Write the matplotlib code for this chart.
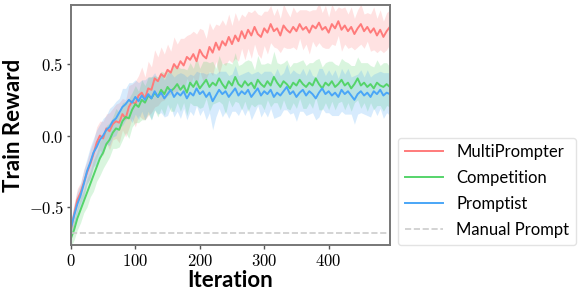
import numpy as np
import matplotlib
matplotlib.use("Agg")
import matplotlib.pyplot as plt
from matplotlib.ticker import FuncFormatter

plt.rcParams['mathtext.fontset'] = 'cm'

step = 5
iters = np.arange(100) * step
manual_prompt = -0.68

multi_mean = [
    -0.66, -0.55, -0.45, -0.40, -0.33, -0.26, -0.20, -0.13, -0.05, 0.00,
    -0.02, 0.05, 0.03, 0.08, 0.10, 0.09, 0.15, 0.12, 0.20, 0.24,
    0.22, 0.28, 0.30, 0.26, 0.33, 0.32, 0.40, 0.38, 0.43, 0.41,
    0.46, 0.44, 0.50, 0.47, 0.52, 0.49, 0.55, 0.53, 0.57, 0.52,
    0.60, 0.56, 0.54, 0.62, 0.58, 0.65, 0.60, 0.66, 0.63, 0.69,
    0.64, 0.70, 0.66, 0.73, 0.68, 0.74, 0.70, 0.76, 0.71, 0.69,
    0.75, 0.72, 0.78, 0.73, 0.75, 0.70, 0.77, 0.74, 0.72, 0.76,
    0.73, 0.78, 0.74, 0.76, 0.72, 0.77, 0.75, 0.79, 0.74, 0.76,
    0.72, 0.78, 0.75, 0.80, 0.74, 0.77, 0.73, 0.76, 0.71, 0.75,
    0.78, 0.73, 0.76, 0.72, 0.75, 0.70, 0.74, 0.69, 0.73, 0.76,
]
multi_std = [
    0.05, 0.07, 0.08, 0.07, 0.09, 0.08, 0.10, 0.09, 0.11, 0.10,
    0.12, 0.10, 0.13, 0.11, 0.12, 0.14, 0.11, 0.13, 0.15, 0.12,
    0.16, 0.14, 0.18, 0.15, 0.19, 0.16, 0.20, 0.17, 0.19, 0.16,
    0.18, 0.15, 0.19, 0.17, 0.16, 0.19, 0.15, 0.18, 0.16, 0.19,
    0.15, 0.18, 0.14, 0.17, 0.16, 0.13, 0.17, 0.15, 0.14, 0.16,
    0.13, 0.16, 0.14, 0.12, 0.15, 0.13, 0.16, 0.12, 0.14, 0.15,
    0.12, 0.15, 0.13, 0.11, 0.14, 0.12, 0.15, 0.13, 0.11, 0.14,
    0.13, 0.10, 0.14, 0.12, 0.15, 0.11, 0.13, 0.14, 0.12, 0.15,
    0.11, 0.14, 0.12, 0.10, 0.15, 0.13, 0.12, 0.14, 0.11, 0.13,
    0.14, 0.12, 0.10, 0.13, 0.15, 0.12, 0.14, 0.11, 0.13, 0.12,
]

comp_mean = [
    -0.72, -0.66, -0.58, -0.52, -0.46, -0.40, -0.34, -0.28, -0.22, -0.16,
    -0.12, -0.06, -0.03, 0.02, 0.05, 0.04, 0.10, 0.13, 0.12, 0.18,
    0.22, 0.20, 0.25, 0.23, 0.28, 0.26, 0.30, 0.27, 0.32, 0.29,
    0.34, 0.31, 0.33, 0.36, 0.32, 0.35, 0.30, 0.37, 0.34, 0.38,
    0.33, 0.36, 0.39, 0.34, 0.37, 0.35, 0.40, 0.36, 0.33, 0.38,
    0.35, 0.41, 0.36, 0.34, 0.38, 0.35, 0.37, 0.33, 0.39, 0.36,
    0.34, 0.38, 0.35, 0.41, 0.37, 0.34, 0.38, 0.36, 0.33, 0.37,
    0.35, 0.39, 0.36, 0.34, 0.37, 0.35, 0.40, 0.36, 0.33, 0.37,
    0.35, 0.38, 0.34, 0.36, 0.39, 0.35, 0.37, 0.33, 0.36, 0.40,
    0.35, 0.37, 0.34, 0.36, 0.33, 0.37, 0.35, 0.34, 0.36, 0.34,
]
comp_std = [
    0.06, 0.07, 0.08, 0.09, 0.08, 0.10, 0.09, 0.11, 0.10, 0.12,
    0.11, 0.13, 0.12, 0.11, 0.14, 0.12, 0.13, 0.11, 0.14, 0.12,
    0.13, 0.11, 0.14, 0.12, 0.13, 0.15, 0.12, 0.14, 0.13, 0.15,
    0.12, 0.14, 0.16, 0.13, 0.15, 0.12, 0.16, 0.14, 0.13, 0.17,
    0.14, 0.16, 0.13, 0.17, 0.15, 0.12, 0.16, 0.14, 0.18, 0.13,
    0.15, 0.17, 0.13, 0.16, 0.14, 0.18, 0.15, 0.13, 0.17, 0.14,
    0.16, 0.13, 0.15, 0.18, 0.14, 0.16, 0.13, 0.17, 0.15, 0.14,
    0.16, 0.13, 0.17, 0.15, 0.14, 0.16, 0.13, 0.18, 0.15, 0.14,
    0.17, 0.14, 0.16, 0.13, 0.15, 0.17, 0.14, 0.16, 0.13, 0.15,
    0.16, 0.14, 0.17, 0.13, 0.15, 0.16, 0.14, 0.17, 0.15, 0.14,
]

promptist_mean = [
    -0.65, -0.56, -0.48, -0.42, -0.34, -0.25, -0.19, -0.12, -0.08, -0.03,
    0.00, 0.04, 0.06, 0.10, 0.12, 0.16, 0.20, 0.22, 0.25, 0.23,
    0.27, 0.24, 0.28, 0.25, 0.29, 0.26, 0.31, 0.27, 0.30, 0.26,
    0.29, 0.32, 0.27, 0.30, 0.28, 0.31, 0.26, 0.30, 0.28, 0.33,
    0.29, 0.31, 0.27, 0.30, 0.24, 0.28, 0.32, 0.29, 0.31, 0.27,
    0.30, 0.33, 0.28, 0.31, 0.29, 0.32, 0.27, 0.30, 0.33, 0.28,
    0.31, 0.29, 0.32, 0.27, 0.30, 0.28, 0.31, 0.34, 0.29, 0.31,
    0.27, 0.30, 0.32, 0.28, 0.31, 0.29, 0.26, 0.30, 0.33, 0.29,
    0.31, 0.28, 0.30, 0.27, 0.32, 0.29, 0.31, 0.28, 0.25, 0.29,
    0.31, 0.28, 0.30, 0.27, 0.31, 0.29, 0.32, 0.28, 0.30, 0.29,
]
promptist_std = [
    0.06, 0.08, 0.09, 0.08, 0.10, 0.09, 0.11, 0.10, 0.12, 0.11,
    0.12, 0.10, 0.13, 0.11, 0.12, 0.10, 0.13, 0.11, 0.12, 0.14,
    0.12, 0.13, 0.11, 0.14, 0.12, 0.15, 0.13, 0.12, 0.14, 0.13,
    0.15, 0.12, 0.14, 0.13, 0.16, 0.12, 0.15, 0.13, 0.14, 0.12,
    0.15, 0.13, 0.16, 0.14, 0.20, 0.15, 0.13, 0.16, 0.14, 0.15,
    0.13, 0.16, 0.14, 0.12, 0.15, 0.13, 0.16, 0.14, 0.12, 0.15,
    0.14, 0.16, 0.13, 0.15, 0.17, 0.14, 0.13, 0.16, 0.14, 0.15,
    0.17, 0.13, 0.15, 0.14, 0.16, 0.13, 0.15, 0.17, 0.14, 0.13,
    0.15, 0.14, 0.16, 0.13, 0.15, 0.14, 0.16, 0.13, 0.17, 0.14,
    0.15, 0.13, 0.16, 0.14, 0.12, 0.15, 0.13, 0.16, 0.14, 0.15,
]

series = [
    ('MultiPrompter', multi_mean, multi_std, '#ff7b7b'),
    ('Competition', comp_mean, comp_std, '#55d46a'),
    ('Promptist', promptist_mean, promptist_std, '#4aa6f7'),
]

fig = plt.figure(figsize=(5.81, 2.97), dpi=100)
ax = fig.add_axes([0.122, 0.175, 0.549, 0.808])

for name, mean, std, color in series:
    m = np.array(mean)
    s = np.array(std)
    ax.fill_between(iters, m - s, m + s, color=color, alpha=0.22, linewidth=0)
    ax.plot(iters, m, color=color, linewidth=1.4, label=name)

ax.axhline(manual_prompt, color='#cccccc', linestyle='--', linewidth=1.2, label='Manual Prompt')

ax.set_xlim(0, 495)
ax.set_ylim(-0.766, 0.913)
ax.set_xticks([0, 100, 200, 300, 400])
ax.set_yticks([-0.5, 0.0, 0.5])
ax.xaxis.set_major_formatter(FuncFormatter(lambda v, p: r'$%d$' % v))
ax.yaxis.set_major_formatter(FuncFormatter(lambda v, p: r'$%.1f$' % v))
ax.tick_params(labelsize=12, color='#555555', length=3, width=1, pad=2)

for sp in ax.spines.values():
    sp.set_color('#777777')
    sp.set_linewidth(1.4)

ax.set_xlabel('Iteration', fontsize=16, fontweight='bold', family='Lato', labelpad=0)
ax.set_ylabel('Train Reward', fontsize=16, fontweight='bold', family='Lato', labelpad=3)

handles, labels = ax.get_legend_handles_labels()
leg = fig.legend(handles, labels, loc='lower left', bbox_to_anchor=(398 / 581, 52 / 297),
                 borderaxespad=0, prop={'family': 'Lato', 'size': 12}, handlelength=2.3,
                 labelspacing=0.6, handletextpad=0.8, frameon=True, fancybox=True)
leg.get_frame().set_edgecolor('#dddddd')

fig.savefig('out.png', dpi=100)
